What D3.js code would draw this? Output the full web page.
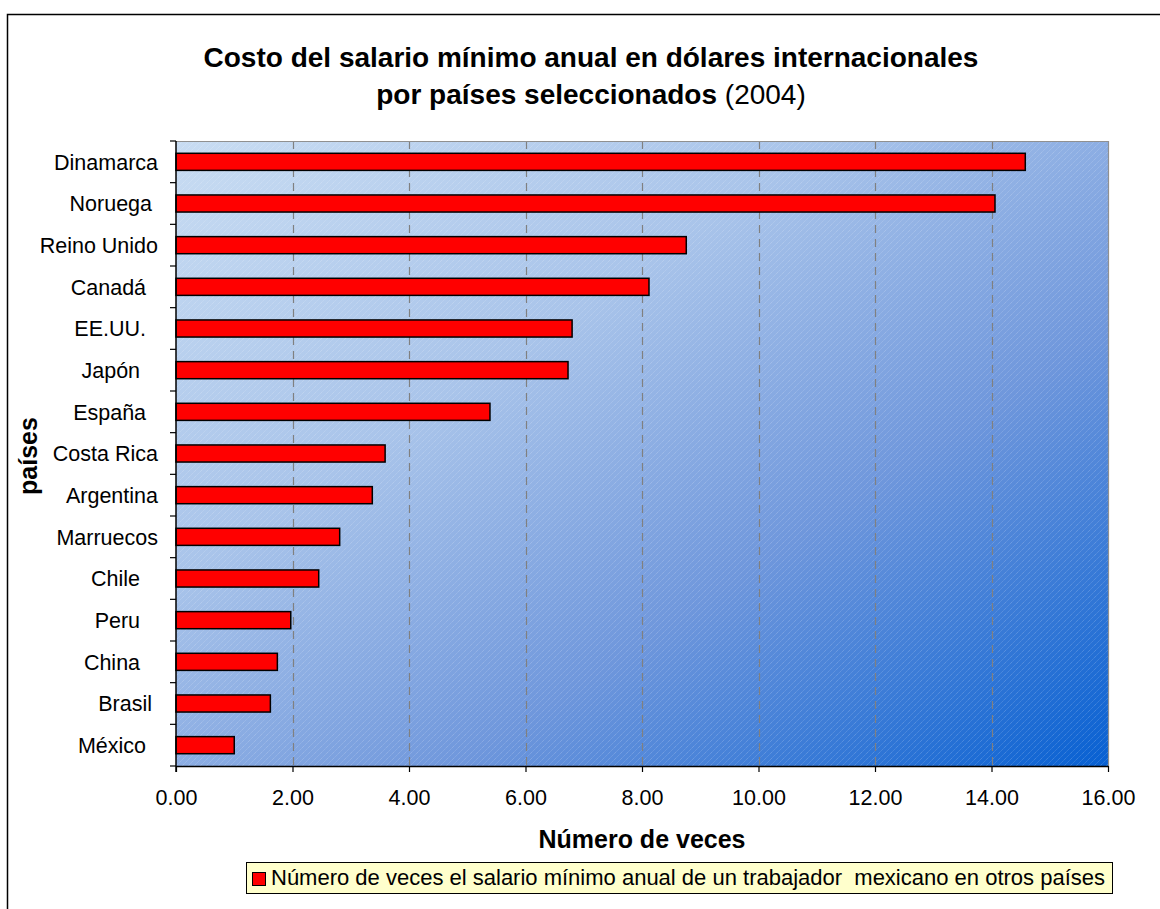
<!DOCTYPE html>
<html>
<head>
<meta charset="utf-8">
<script src="https://cdn.jsdelivr.net/npm/d3@7"></script>
<style>
  html, body { margin: 0; padding: 0; background: #ffffff; }
  svg { display: block; font-family: "Liberation Sans", Arial, sans-serif; }
  text { white-space: pre; }
</style>
</head>
<body>
<svg id="chart" width="1160" height="909"></svg>
<script>
// Minimum annual wage, expressed as multiples of the Mexican minimum wage (2004)
const countries = ["Dinamarca", "Noruega ", "Reino Unido", "Canadá  ", "EE.UU.  ", "Japón   ", "España  ",
  "Costa Rica", "Argentina", "Marruecos", "Chile   ", "Peru   ", "China   ", "Brasil ", "México  "];
const timesMexico = [14.58, 14.06, 8.76, 8.12, 6.80, 6.73, 5.39, 3.59, 3.37, 2.81, 2.45, 1.97, 1.74, 1.62, 1.00];
const xTicks = [0, 2, 4, 6, 8, 10, 12, 14, 16];
const seriesName = "Número de veces el salario mínimo anual de un trabajador  mexicano en otros países";

const svg = d3.select("#chart");
const W = 1160, H = 909;
const FONT = "'Liberation Sans', Arial, sans-serif";

// outer chart frame (runs past the right and bottom edges)
svg.append("rect")
  .attr("x", 7.5).attr("y", 14.5).attr("width", W + 20).attr("height", H + 20)
  .attr("fill", "#ffffff").attr("stroke", "#000000").attr("stroke-width", 1.5);

const plot = { left: 176, right: 1108, top: 141, bottom: 766 };

const x = d3.scaleLinear().domain([0, 16]).range([plot.left, plot.right]);
const y = d3.scaleBand().domain(countries).range([plot.top, plot.bottom]).paddingInner(0.59).paddingOuter(0.295);
const yBand = d3.scaleBand().domain(countries).range([plot.top, plot.bottom]);

const defs = svg.append("defs");
const grad = defs.append("linearGradient").attr("id", "bg")
  .attr("x1", "0%").attr("y1", "0%").attr("x2", "100%").attr("y2", "100%");
grad.append("stop").attr("offset", "0%").attr("stop-color", "#c8dcf2");
grad.append("stop").attr("offset", "35%").attr("stop-color", "#a9c4ea");
grad.append("stop").attr("offset", "65%").attr("stop-color", "#6f97dc");
grad.append("stop").attr("offset", "100%").attr("stop-color", "#0760d2");

const hatch = defs.append("pattern").attr("id", "hatch")
  .attr("patternUnits", "userSpaceOnUse").attr("width", 6).attr("height", 6);
hatch.append("path").attr("d", "M-1,7 L7,-1 M-1,1 L1,-1 M5,7 L7,5")
  .attr("stroke", "#ffffff").attr("stroke-opacity", 0.3).attr("stroke-width", 0.8)
  .attr("stroke-dasharray", "1.2,0.8");

// plot area background
svg.append("rect")
  .attr("x", plot.left).attr("y", plot.top)
  .attr("width", plot.right - plot.left).attr("height", plot.bottom - plot.top)
  .attr("fill", "url(#bg)");
svg.append("rect")
  .attr("x", plot.left).attr("y", plot.top)
  .attr("width", plot.right - plot.left).attr("height", plot.bottom - plot.top)
  .attr("fill", "url(#hatch)");

// vertical dashed gridlines
svg.append("g").selectAll("line")
  .data(xTicks.filter(d => d > 0 && d < 16))
  .join("line")
  .attr("x1", d => Math.round(x(d)) + 0.5).attr("x2", d => Math.round(x(d)) + 0.5)
  .attr("y1", plot.top).attr("y2", plot.bottom)
  .attr("stroke", "#808080").attr("stroke-width", 1.2)
  .attr("stroke-dasharray", "8,6");

// top and right plot border
svg.append("path")
  .attr("d", `M${plot.left},${plot.top + 0.5}H${plot.right + 0.5}V${plot.bottom}`)
  .attr("fill", "none").attr("stroke", "#909090").attr("stroke-width", 1.2);

// bars
svg.append("g").selectAll("rect")
  .data(countries.map((c, i) => ({ c, v: timesMexico[i] })))
  .join("rect")
  .attr("x", x(0)).attr("y", d => y(d.c))
  .attr("width", d => x(d.v) - x(0)).attr("height", y.bandwidth())
  .attr("fill", "#ff0000").attr("stroke", "#000000").attr("stroke-width", 1.5);

// x axis
const xAxis = svg.append("g").attr("transform", `translate(0,${plot.bottom})`)
  .call(d3.axisBottom(x).tickValues(xTicks).tickFormat(d3.format(".2f")).tickSizeInner(6).tickSizeOuter(0).tickPadding(8));
xAxis.attr("font-family", FONT).attr("font-size", 21.5);
xAxis.select(".domain").attr("stroke", "#000").attr("stroke-width", 1.5);
xAxis.selectAll(".tick line").attr("stroke", "#000").attr("stroke-width", 1.2);
xAxis.selectAll(".tick text").attr("fill", "#000").attr("dy", null).attr("y", 39);

// y axis: ticks sit on the category boundaries
const yAxisG = svg.append("g").attr("transform", `translate(${plot.left},0)`);
yAxisG.append("line").attr("x1", 0).attr("x2", 0).attr("y1", plot.top).attr("y2", plot.bottom + 6)
  .attr("stroke", "#000").attr("stroke-width", 1.5);
yAxisG.selectAll("line.tk")
  .data(countries.concat(["__end"]))
  .join("line").attr("class", "tk")
  .attr("x1", -6).attr("x2", 0)
  .attr("y1", (d, i) => i < countries.length ? yBand(d) : plot.bottom)
  .attr("y2", (d, i) => i < countries.length ? yBand(d) : plot.bottom)
  .attr("stroke", "#000").attr("stroke-width", 1.2);
yAxisG.selectAll("text")
  .data(countries)
  .join("text")
  .attr("x", -18)
  .attr("y", d => yBand(d) + yBand.bandwidth() / 2)
  .attr("dy", "0.36em")
  .attr("text-anchor", "end")
  .attr("font-size", 21.5)
  .attr("fill", "#000")
  .text(d => d);

// titles
const title = svg.append("text").attr("text-anchor", "middle").attr("font-size", 28).attr("font-weight", "bold");
title.append("tspan").attr("x", 591).attr("y", 67).text("Costo del salario mínimo anual en dólares internacionales");
const t2 = title.append("tspan").attr("x", 591).attr("y", 104);
t2.append("tspan").text("por países seleccionados ");
t2.append("tspan").attr("font-weight", "normal").text("(2004)");

svg.append("text").attr("x", 642).attr("y", 848).attr("text-anchor", "middle")
  .attr("font-size", 25).attr("font-weight", "bold").text("Número de veces");

svg.append("text").attr("transform", "translate(37,456) rotate(-90)").attr("text-anchor", "middle")
  .attr("font-size", 25).attr("font-weight", "bold").text("países");

// legend
const lg = svg.append("g");
lg.append("rect").attr("x", 246.5).attr("y", 862.5).attr("width", 866).attr("height", 31)
  .attr("fill", "#ffffcc").attr("stroke", "#000").attr("stroke-width", 1);
lg.append("rect").attr("x", 252.5).attr("y", 872.5).attr("width", 13).attr("height", 13)
  .attr("fill", "#ff0000").attr("stroke", "#000").attr("stroke-width", 1);
lg.append("text").attr("x", 271).attr("y", 885).attr("font-size", 22)
  .attr("xml:space", "preserve").text(seriesName);
</script>
</body>
</html>
